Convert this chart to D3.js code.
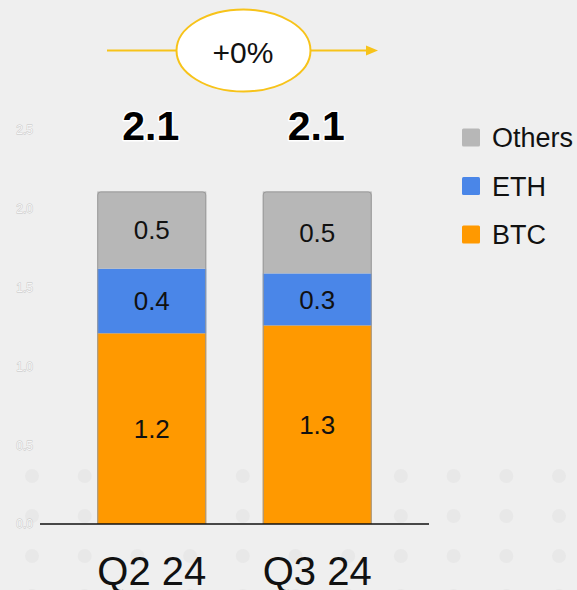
<!DOCTYPE html>
<html>
<head>
<meta charset="utf-8">
<script src="https://cdn.jsdelivr.net/npm/d3@7"></script>
<style>
  html, body { margin: 0; padding: 0; background: #efefef; }
  svg { display: block; font-family: "Liberation Sans", Arial, Helvetica, sans-serif; }
</style>
</head>
<body>
<svg id="chart" width="577" height="590"></svg>
<script>
// ---- data ----
const categories = ["Q2 24", "Q3 24"];
const seriesNames = ["BTC", "ETH", "Others"];
const btc = [1.21, 1.26];
const eth = [0.41, 0.33];
const others = [0.49, 0.52];
const yTicks = [0, 0.5, 1.0, 1.5, 2.0, 2.5];
const legendOrder = ["Others", "ETH", "BTC"];
const changeLabel = "+0%";
const colors = { BTC: "#ff9900", ETH: "#4a86e8", Others: "#b7b7b7" };

const rows = categories.map((c, i) => ({ cat: c, BTC: btc[i], ETH: eth[i], Others: others[i] }));
const stacked = d3.stack().keys(seriesNames)(rows);
const totals = rows.map(r => r.BTC + r.ETH + r.Others);

const svg = d3.select("#chart");
const W = 577, H = 590;

svg.append("rect").attr("width", W).attr("height", H).attr("fill", "#efefef");

// decorative dots
const dotG = svg.append("g");
const dotXs = d3.range(11).map(i => 32 + i * 52.7);
const dotYs = [476, 516, 556, 596];
dotYs.forEach(y => dotXs.forEach(x => {
  dotG.append("circle").attr("cx", x).attr("cy", y).attr("r", 7).attr("fill", "#e8e8e8");
}));

const x = d3.scaleBand().domain(categories).range([40, 429]).paddingInner(0.3414).paddingOuter(0.346);
const y = d3.scaleLinear().domain([0, 2.5]).range([524, 130]);

// y tick labels (faint)
const yAxis = d3.axisLeft(y).tickValues(yTicks).tickFormat(d3.format(".1f")).tickSize(0).tickPadding(0);
const ya = svg.append("g").attr("transform", "translate(33,0)").call(yAxis);
ya.select(".domain").remove();
ya.selectAll("text")
  .attr("font-size", 12)
  .attr("font-family", "Liberation Sans, Arial, sans-serif")
  .attr("fill", "#f7f7f7")
  .attr("stroke", "#c4c4c4")
  .attr("stroke-width", 0.8)
  .attr("paint-order", "stroke");

// bars
const segG = svg.append("g");
stacked.forEach(layer => {
  const key = layer.key;
  layer.forEach((d, i) => {
    const cat = categories[i];
    segG.append("rect")
      .attr("x", x(cat))
      .attr("y", y(d[1]))
      .attr("width", x.bandwidth())
      .attr("height", y(d[0]) - y(d[1]))
      .attr("fill", colors[key]);
    segG.append("text")
      .attr("x", x(cat) + x.bandwidth() / 2)
      .attr("y", (y(d[0]) + y(d[1])) / 2)
      .attr("dy", "0.36em")
      .attr("text-anchor", "middle")
      .attr("font-size", 26)
      .attr("fill", "#111")
      .text(d3.format(".1f")(d[1] - d[0]));
  });
});

// outlines around stacks with rounded top corners
categories.forEach((cat, i) => {
  const x0 = x(cat) + 0.5, x1 = x(cat) + x.bandwidth() - 0.5;
  const yt = y(totals[i]) + 0.5, yb = y(0);
  const r = 3;
  const p = `M${x0},${yb} L${x0},${yt + r} Q${x0},${yt} ${x0 + r},${yt} L${x1 - r},${yt} Q${x1},${yt} ${x1},${yt + r} L${x1},${yb}`;
  svg.append("path").attr("d", p).attr("fill", "none").attr("stroke", "#9a9a9a").attr("stroke-width", 1);
});

// baseline axis
svg.append("line").attr("x1", 40).attr("x2", 429).attr("y1", y(0)).attr("y2", y(0))
  .attr("stroke", "#111").attr("stroke-width", 1.5);

// category labels
const xAxis = d3.axisBottom(x).tickSize(0).tickPadding(0);
const xa = svg.append("g").attr("transform", `translate(0,${y(0)})`).call(xAxis);
xa.select(".domain").remove();
xa.selectAll("text")
  .attr("font-size", 40)
  .attr("font-family", "Liberation Sans, Arial, sans-serif")
  .attr("fill", "#111")
  .attr("dy", null)
  .attr("y", 61);

// totals
categories.forEach((cat, i) => {
  svg.append("text")
    .attr("x", x(cat) + x.bandwidth() / 2 - 1)
    .attr("y", 140)
    .attr("text-anchor", "middle")
    .attr("font-size", 41)
    .attr("font-weight", "bold")
    .attr("fill", "#000")
    .attr("stroke", "#fff")
    .attr("stroke-width", 3)
    .attr("paint-order", "stroke")
    .attr("stroke-linejoin", "round")
    .text(d3.format(".1f")(totals[i]));
});

// change indicator
const yellow = "#f7c31a";
svg.append("line").attr("x1", 107).attr("x2", 176).attr("y1", 50.5).attr("y2", 50.5)
  .attr("stroke", yellow).attr("stroke-width", 2);
svg.append("line").attr("x1", 311).attr("x2", 368).attr("y1", 50.5).attr("y2", 50.5)
  .attr("stroke", yellow).attr("stroke-width", 2);
svg.append("path").attr("d", "M366,45.5 L378,50.5 L366,55.5 Z").attr("fill", yellow);
svg.append("ellipse").attr("cx", 243.5).attr("cy", 50.5).attr("rx", 67).attr("ry", 41)
  .attr("fill", "#fff").attr("stroke", yellow).attr("stroke-width", 2);
svg.append("text").attr("x", 243).attr("y", 52).attr("dy", "0.36em")
  .attr("text-anchor", "middle").attr("font-size", 30).attr("fill", "#111").text(changeLabel);

// legend
const lg = svg.append("g");
legendOrder.forEach((k, i) => {
  const yy = 137.5 + i * 48.5;
  lg.append("rect").attr("x", 462).attr("y", yy - 9).attr("width", 18).attr("height", 18)
    .attr("rx", 1.5).attr("fill", colors[k]);
  lg.append("text").attr("x", 492).attr("y", yy).attr("dy", "0.36em")
    .attr("font-size", 27).attr("fill", "#111").text(k);
});
</script>
</body>
</html>
